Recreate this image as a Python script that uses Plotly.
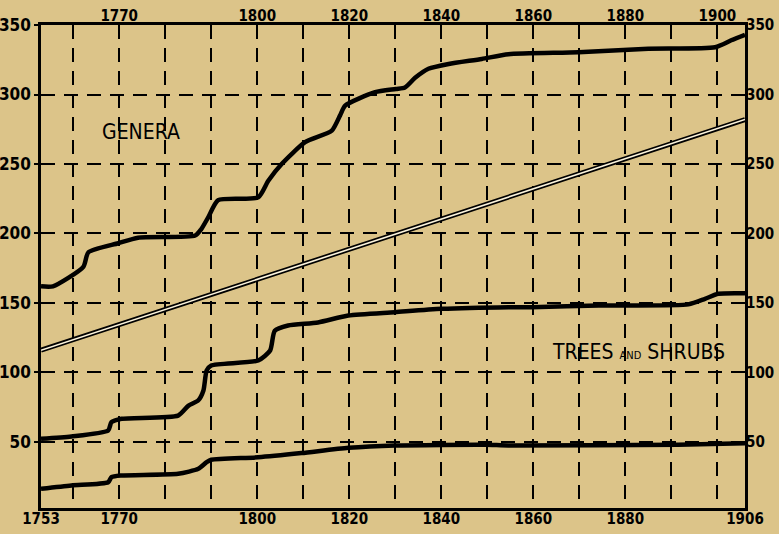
import plotly.graph_objects as go

# ---- data ----
genera_years = [1753, 1755.6, 1762.2, 1763.3, 1769.8, 1774.1, 1786.5, 1787.8, 1789.4, 1791.5,
                1800.2, 1802.4, 1805.3, 1810.4, 1816.2, 1818, 1819.1, 1825.6, 1830.1, 1832.1,
                1834.3, 1837.2, 1841.6, 1848.8, 1854.6, 1869.8, 1885, 1899.5, 1903, 1906]
genera_vals = [162, 162, 176, 186.5, 193, 197, 198.5, 203, 212, 224,
               226, 238, 250, 265.7, 274, 285, 292, 301.7, 304, 305,
               312, 318.5, 322, 325.6, 329, 330.4, 333, 334, 339, 343]

straight_years = [1753, 1906]
straight_vals = [116, 282]

trees_years = [1753, 1759.6, 1767.6, 1768.3, 1770.5, 1782.8, 1785, 1787.2, 1788.3, 1789, 1790,
               1800.2, 1802.8, 1803.8, 1806.7, 1813.2, 1819.8, 1829.9, 1840, 1854.6, 1859.6,
               1874.2, 1893.7, 1897.3, 1900.2, 1906]
trees_vals = [52.3, 54, 58.3, 64.2, 66.7, 69, 76, 80, 87, 101.4, 105,
              108.6, 115.8, 130, 133.8, 136, 141, 143.4, 145.8, 147, 147,
              148.2, 149, 153, 156.6, 157]

ts_genera_years = [1753, 1759.6, 1767.6, 1768.3, 1770.5, 1782.8, 1787.2, 1789, 1790, 1800.2,
                   1809.6, 1819.8, 1829.9, 1849.5, 1854.6, 1891.5, 1906]
ts_genera_vals = [16.3, 18.7, 21, 24.7, 25.9, 27.1, 30.7, 35.5, 37.2, 39,
                  42, 45.8, 47.5, 48, 47.5, 48, 49]

grid_years = [1760, 1770, 1780, 1790, 1800, 1810, 1820, 1830, 1840, 1850, 1860, 1870, 1880, 1890, 1900]
top_labels = [1770, 1800, 1820, 1840, 1860, 1880, 1900]
bottom_labels = [1753, 1770, 1800, 1820, 1840, 1860, 1880, 1906]
y_labels = [50, 100, 150, 200, 250, 300, 350]

BG = "#dcc489"
FONT = "DejaVu Sans Condensed, Liberation Sans Narrow, sans-serif"

fig = go.Figure()
thick = dict(color="black", width=4.5, shape="spline", smoothing=0.6)
fig.add_trace(go.Scatter(x=genera_years, y=genera_vals, mode="lines", line=thick))
fig.add_trace(go.Scatter(x=trees_years, y=trees_vals, mode="lines", line=thick))
fig.add_trace(go.Scatter(x=ts_genera_years, y=ts_genera_vals, mode="lines", line=thick))
fig.add_trace(go.Scatter(x=straight_years, y=straight_vals, mode="lines",
                         line=dict(color="black", width=5)))
fig.add_trace(go.Scatter(x=straight_years, y=straight_vals, mode="lines",
                         line=dict(color="#fbf3dc", width=1.6)))

xr = [1753, 1906]
yr = [2.5, 350]
grid = dict(showgrid=True, gridcolor="black", gridwidth=2, griddash="14px,9px")
xfont = dict(family=FONT, size=15, color="black")
yfont = dict(family=FONT, size=17, color="black")
ytext = ["<b>%d</b>" % v for v in y_labels]
toptext = ["<b>%d</b>" % v for v in top_labels]
bottext = ["<b>%d</b>" % v for v in bottom_labels]

fig.update_layout(
    width=779, height=534,
    margin=dict(l=41, r=34, t=25, b=26, autoexpand=False),
    paper_bgcolor=BG, plot_bgcolor=BG,
    showlegend=False,
    xaxis=dict(range=xr, tickvals=grid_years, showticklabels=False, ticks="",
               showline=True, linecolor="black", linewidth=2.5, mirror=True,
               zeroline=False, automargin=False, **grid),
    xaxis2=dict(range=xr, overlaying="x", side="top", tickvals=top_labels,
                ticktext=toptext, ticks="", showgrid=False, zeroline=False,
                tickfont=xfont, automargin=False),
    xaxis3=dict(range=xr, overlaying="x", side="bottom", tickvals=bottom_labels,
                ticktext=bottext, ticks="", showgrid=False, zeroline=False,
                tickfont=xfont, automargin=False),
    yaxis=dict(range=yr, tickvals=y_labels, ticktext=ytext, showline=True,
               linecolor="black", linewidth=2.5, mirror=True, zeroline=False,
               ticks="outside", ticklen=4, tickcolor="black", tickwidth=2,
               automargin=False, tickfont=yfont, **grid),
    yaxis2=dict(range=yr, overlaying="y", side="right", tickvals=y_labels,
                ticktext=ytext, ticks="", showgrid=False, zeroline=False,
                tickfont=dict(family=FONT, size=15, color="black"),
                automargin=False),
)
# invisible traces to activate the extra axes
fig.add_trace(go.Scatter(x=[1753], y=[350], xaxis="x2", yaxis="y2", mode="markers",
                         marker=dict(opacity=0), hoverinfo="skip"))
fig.add_trace(go.Scatter(x=[1753], y=[350], xaxis="x3", yaxis="y", mode="markers",
                         marker=dict(opacity=0), hoverinfo="skip"))

fig.add_annotation(x=1774.8, y=273, text="GENERA", showarrow=False,
                   font=dict(family=FONT, size=21, color="black"))
fig.add_annotation(x=1882.8, y=114.4,
                   text="TREES <span style='font-size:11px'>AND</span> SHRUBS",
                   showarrow=False, font=dict(family=FONT, size=21, color="black"))

fig.write_html("out.html", config={"displayModeBar": False},
               post_script="document.body.style.margin='0';")
